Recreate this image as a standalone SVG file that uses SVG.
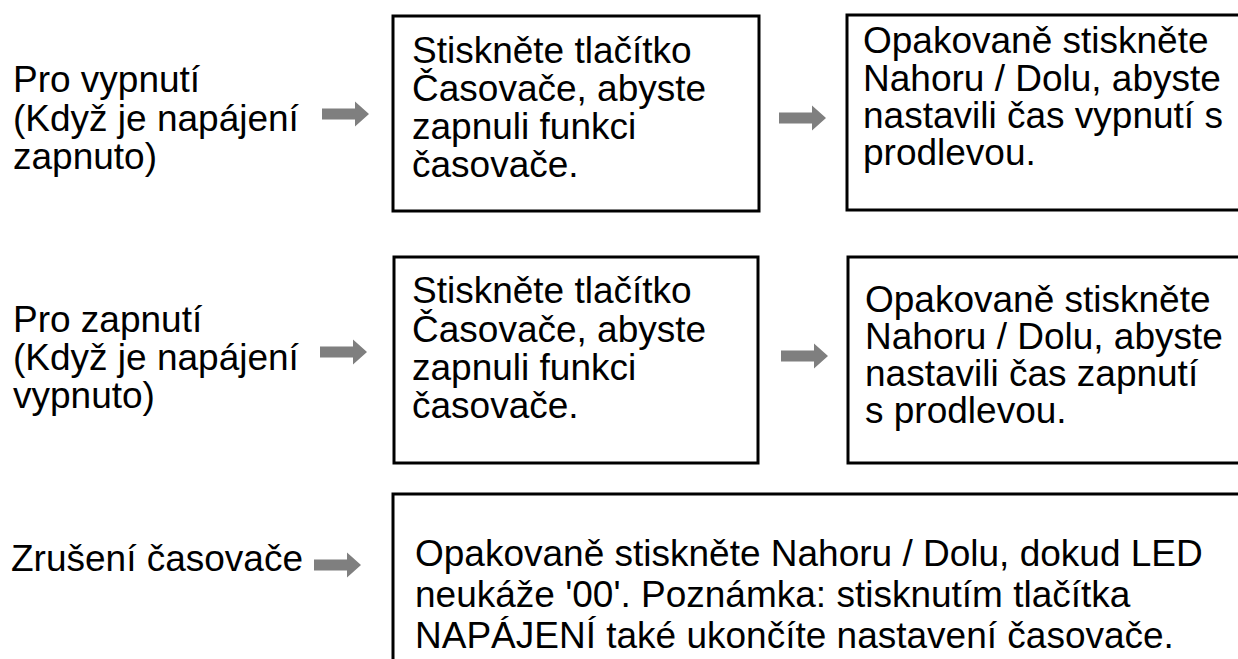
<svg xmlns="http://www.w3.org/2000/svg" xmlns:xlink="http://www.w3.org/1999/xlink" width="1238" height="659" viewBox="0 0 1238 659">
<style>
.t{font-family:"Liberation Sans",Arial,sans-serif;font-size:37px;fill:#000}
.box{fill:#fff;stroke:#000;stroke-width:3}
.arr{fill:#7f7f7f}
</style>
<defs>
<path id="arrow" d="M0,-5.5 H33 V-12.5 L47,0 L33,12.5 V5.5 H0 Z"/>
</defs>
<rect width="1238" height="659" fill="#fff"/>
<g id="label1">
<text class="t" x="13" y="92">Pro vypnutí</text>
<text class="t" x="13" y="131">(Když je napájení</text>
<text class="t" x="13" y="169">zapnuto)</text>
</g>
<g id="box1a">
<rect class="box" x="393" y="16" width="366" height="195"/>
<text class="t" x="412" y="63">Stiskněte tlačítko</text>
<text class="t" x="412" y="101">Časovače, abyste</text>
<text class="t" x="412" y="139">zapnuli funkci</text>
<text class="t" x="412" y="177">časovače.</text>
</g>
<g id="box1b">
<rect class="box" x="847" y="15" width="420" height="195"/>
<text class="t" x="863" y="53">Opakovaně stiskněte</text>
<text class="t" x="863" y="91">Nahoru / Dolu, abyste</text>
<text class="t" x="863" y="128">nastavili čas vypnutí s</text>
<text class="t" x="863" y="165">prodlevou.</text>
</g>
<g id="label2">
<text class="t" x="13" y="332">Pro zapnutí</text>
<text class="t" x="13" y="370">(Když je napájení</text>
<text class="t" x="13" y="408">vypnuto)</text>
</g>
<g id="box2a">
<rect class="box" x="394" y="257" width="364" height="206"/>
<text class="t" x="412" y="303">Stiskněte tlačítko</text>
<text class="t" x="412" y="342">Časovače, abyste</text>
<text class="t" x="412" y="380">zapnuli funkci</text>
<text class="t" x="412" y="418">časovače.</text>
</g>
<g id="box2b">
<rect class="box" x="848" y="257" width="420" height="206"/>
<text class="t" x="865" y="312">Opakovaně stiskněte</text>
<text class="t" x="865" y="349">Nahoru / Dolu, abyste</text>
<text class="t" x="865" y="386">nastavili čas zapnutí</text>
<text class="t" x="865" y="423">s prodlevou.</text>
</g>
<g id="label3">
<text class="t" x="11" y="571">Zrušení časovače</text>
</g>
<g id="box3">
<rect class="box" x="393" y="494" width="880" height="200"/>
<text class="t" x="415" y="566">Opakovaně stiskněte Nahoru / Dolu, dokud LED</text>
<text class="t" x="415" y="607">neukáže '00'. Poznámka: stisknutím tlačítka</text>
<text class="t" x="415" y="648">NAPÁJENÍ také ukončíte nastavení časovače.</text>
</g>
<g id="connectors" class="arr">
<use xlink:href="#arrow" href="#arrow" transform="translate(322,114)"/>
<use xlink:href="#arrow" href="#arrow" transform="translate(779,118)"/>
<use xlink:href="#arrow" href="#arrow" transform="translate(320,352)"/>
<use xlink:href="#arrow" href="#arrow" transform="translate(781,356)"/>
<use xlink:href="#arrow" href="#arrow" transform="translate(314,565)"/>
</g>
</svg>
